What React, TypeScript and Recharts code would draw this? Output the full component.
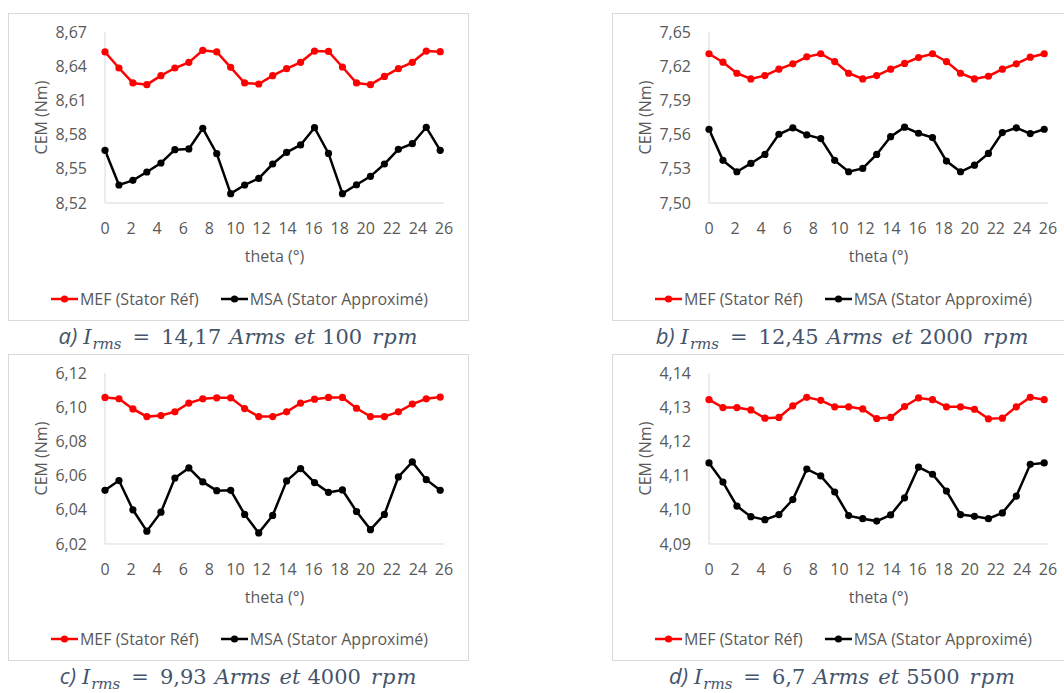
import { LineChart, Line, XAxis, YAxis, Label } from "recharts";

// theta (deg) — same sampling for all four cases
const THETA = [0, 1.07, 2.14, 3.21, 4.29, 5.36, 6.43, 7.5, 8.57, 9.64, 10.71, 11.79, 12.86, 13.93, 15, 16.07, 17.14, 18.21, 19.29, 20.36, 21.43, 22.5, 23.57, 24.64, 25.71];
const X_TICKS = [0, 2, 4, 6, 8, 10, 12, 14, 16, 18, 20, 22, 24, 26];

// a) 14,17 Arms / 100 rpm
const MEF_A = [8.6525, 8.6384, 8.6253, 8.6238, 8.6317, 8.6384, 8.6434, 8.6539, 8.6525, 8.639, 8.6253, 8.6244, 8.6317, 8.6378, 8.6434, 8.6533, 8.653, 8.6393, 8.6253, 8.6238, 8.631, 8.6378, 8.6434, 8.6533, 8.6527];
const MSA_A = [8.5662, 8.5358, 8.5399, 8.5472, 8.5551, 8.5668, 8.5674, 8.5855, 8.5633, 8.5282, 8.5358, 8.5416, 8.5542, 8.5644, 8.5709, 8.5861, 8.5635, 8.5282, 8.536, 8.5434, 8.5542, 8.5671, 8.572, 8.5864, 8.5662];
const TICKS_A = [8.52, 8.55, 8.58, 8.61, 8.64, 8.67];

// b) 12,45 Arms / 2000 rpm
const MEF_B = [7.6309, 7.6235, 7.6138, 7.6088, 7.6118, 7.6174, 7.6221, 7.6282, 7.6309, 7.6241, 7.6138, 7.6088, 7.6118, 7.6174, 7.6224, 7.6276, 7.6309, 7.6241, 7.6138, 7.6088, 7.6112, 7.6174, 7.6221, 7.6279, 7.6309];
const MSA_B = [7.5647, 7.5374, 7.5274, 7.5347, 7.5426, 7.5603, 7.5659, 7.5597, 7.5565, 7.5374, 7.5274, 7.5303, 7.5426, 7.5582, 7.5665, 7.5612, 7.5574, 7.5368, 7.5274, 7.5332, 7.5435, 7.5618, 7.5659, 7.5609, 7.5647];
const TICKS_B = [7.5, 7.53, 7.56, 7.59, 7.62, 7.65];

// c) 9,93 Arms / 4000 rpm
const MEF_C = [6.1057, 6.1049, 6.099, 6.0945, 6.0951, 6.0973, 6.1024, 6.1049, 6.1055, 6.1055, 6.0992, 6.0945, 6.0945, 6.0973, 6.1024, 6.1047, 6.1057, 6.1057, 6.0994, 6.0945, 6.0945, 6.0973, 6.1018, 6.1049, 6.1059];
const MSA_C = [6.0514, 6.0571, 6.04, 6.0275, 6.0386, 6.0586, 6.0645, 6.0563, 6.0512, 6.0514, 6.0373, 6.0265, 6.0367, 6.0569, 6.0641, 6.0559, 6.0502, 6.0516, 6.039, 6.0284, 6.0373, 6.0592, 6.068, 6.0576, 6.0514];
const TICKS_C = [6.02, 6.04, 6.06, 6.08, 6.1, 6.12];

// d) 6,7 Arms / 5500 rpm
const MEF_D = [4.1322, 4.1299, 4.1299, 4.1292, 4.1268, 4.127, 4.1304, 4.1329, 4.132, 4.1301, 4.1301, 4.1295, 4.1267, 4.127, 4.1302, 4.1327, 4.1322, 4.1301, 4.1301, 4.1294, 4.1266, 4.1268, 4.1301, 4.1329, 4.1322];
const MSA_D = [4.1137, 4.1081, 4.1011, 4.098, 4.0971, 4.0986, 4.103, 4.1119, 4.1099, 4.1052, 4.0983, 4.0974, 4.0967, 4.0985, 4.1035, 4.1125, 4.1104, 4.1055, 4.0986, 4.0981, 4.0974, 4.0991, 4.104, 4.1133, 4.1137];
const TICKS_D = [4.09, 4.1, 4.11, 4.12, 4.13, 4.14];

const SERIES = [
  { key: "mef", name: "MEF (Stator Réf)", color: "#FF0000" },
  { key: "msa", name: "MSA (Stator Approximé)", color: "#000000" },
];

const SANS = "'Open Sans', sans-serif";
const SERIF = "'DejaVu Serif', serif";
const GREY = "#595959";
const AXIS = "#D9D9D9";
const CAPTION = "#44546A";

const FRAME_W = 461;
const comma = (v: number) => v.toFixed(2).replace(".", ",");

function Caption({ left, top, letter, current, speed }: {
  left: number; top: number; letter: string; current: string; speed: string;
}) {
  const it = { fontStyle: "italic" as const };
  return (
    <div
      style={{
        position: "absolute", left, top, width: FRAME_W, display: "flex",
        justifyContent: "center", alignItems: "baseline",
        fontFamily: SERIF, fontSize: 21, lineHeight: "26px", color: CAPTION, whiteSpace: "nowrap",
      }}
    >
      <span style={{ ...it, fontFamily: SANS, fontSize: 22, marginRight: 6 }}>{letter}</span>
      <span style={it}>I</span>
      <span style={{ ...it, fontSize: 15, position: "relative", top: 5, marginLeft: 1 }}>rms</span>
      <span style={{ margin: "0 11px" }}>=</span>
      <span>{current}</span>
      <span style={{ ...it, marginLeft: 8 }}>Arms</span>
      <span style={{ ...it, marginLeft: 9 }}>et</span>
      <span style={{ marginLeft: 7 }}>{speed}</span>
      <span style={{ ...it, marginLeft: 10, letterSpacing: 1 }}>rpm</span>
    </div>
  );
}

function Panel({
  left, top, height, mef, msa, ticks, letter, current, speed, captionTop,
}: {
  left: number; top: number; height: number; mef: number[]; msa: number[]; ticks: number[];
  letter: string; current: string; speed: string; captionTop: number;
}) {
  const data = THETA.map((t, i) => ({ theta: t, mef: mef[i], msa: msa[i] }));
  return (
    <>
      <div
        style={{
          position: "absolute", left, top, width: FRAME_W, height,
          border: `1px solid ${AXIS}`, boxSizing: "border-box", background: "#fff",
        }}
      >
        <LineChart
          width={FRAME_W - 2}
          height={266}
          data={data}
          margin={{ top: 18, right: 24, left: 0, bottom: 0 }}
          style={{ fontFamily: SANS }}
        >
          <XAxis
            dataKey="theta"
            type="number"
            domain={[0, 26]}
            ticks={X_TICKS}
            interval={0}
            height={77}
            tickLine={false}
            tickSize={0}
            tickMargin={20}
            axisLine={{ stroke: AXIS }}
            tick={{ fill: GREY, fontSize: 16 }}
          >
            <Label
              content={({ viewBox }: any) => (
                <text
                  x={viewBox.x + viewBox.width / 2}
                  y={viewBox.y + 53}
                  textAnchor="middle"
                  dominantBaseline="central"
                  fill={GREY}
                  fontSize={16}
                >
                  theta (°)
                </text>
              )}
            />
          </XAxis>
          <YAxis
            type="number"
            domain={[ticks[0], ticks[ticks.length - 1]]}
            ticks={ticks}
            interval={0}
            width={96}
            tickLine={false}
            tickSize={0}
            tickMargin={18}
            axisLine={{ stroke: AXIS }}
            tick={{ fill: GREY, fontSize: 16 }}
            tickFormatter={comma}
          >
            <Label
              content={({ viewBox }: any) => {
                const x = viewBox.x + 32;
                const y = viewBox.y + viewBox.height / 2;
                return (
                  <text
                    x={x}
                    y={y}
                    transform={`rotate(-90, ${x}, ${y})`}
                    textAnchor="middle"
                    dominantBaseline="central"
                    fill={GREY}
                    fontSize={16}
                  >
                    CEM (Nm)
                  </text>
                );
              }}
            />
          </YAxis>
          {SERIES.map((s) => (
            <Line
              key={s.key}
              dataKey={s.key}
              name={s.name}
              stroke={s.color}
              strokeWidth={2.5}
              dot={{ r: 3.6, fill: s.color, stroke: s.color, strokeWidth: 0 }}
              activeDot={false}
              isAnimationActive={false}
            />
          ))}
        </LineChart>
        <div
          style={{
            position: "absolute", left: 0, width: FRAME_W, top: height - 34,
            display: "flex", justifyContent: "center", gap: 22,
            fontFamily: SANS, fontSize: 16, color: GREY, lineHeight: "22px",
          }}
        >
          {SERIES.map((s) => (
            <span key={s.key} style={{ display: "flex", alignItems: "center", gap: 2 }}>
              <svg width={27} height={10}>
                <line x1={0} y1={5} x2={27} y2={5} stroke={s.color} strokeWidth={2.5} />
                <circle cx={13.5} cy={5} r={3.6} fill={s.color} />
              </svg>
              {s.name}
            </span>
          ))}
        </div>
      </div>
      <Caption left={left} top={captionTop} letter={letter} current={current} speed={speed} />
    </>
  );
}

export default function App() {
  return (
    <div
      style={{
        position: "absolute", left: 0, top: 0, width: 1064, height: 693,
        overflow: "hidden", background: "#fff",
      }}
    >
      <Panel left={8} top={13} height={308} mef={MEF_A} msa={MSA_A} ticks={TICKS_A}
        letter="a)" current="14,17" speed="100" captionTop={322} />
      <Panel left={612} top={13} height={308} mef={MEF_B} msa={MSA_B} ticks={TICKS_B}
        letter="b)" current="12,45" speed="2000" captionTop={322} />
      <Panel left={8} top={354} height={307} mef={MEF_C} msa={MSA_C} ticks={TICKS_C}
        letter="c)" current="9,93" speed="4000" captionTop={662} />
      <Panel left={612} top={354} height={307} mef={MEF_D} msa={MSA_D} ticks={TICKS_D}
        letter="d)" current="6,7" speed="5500" captionTop={662} />
    </div>
  );
}
